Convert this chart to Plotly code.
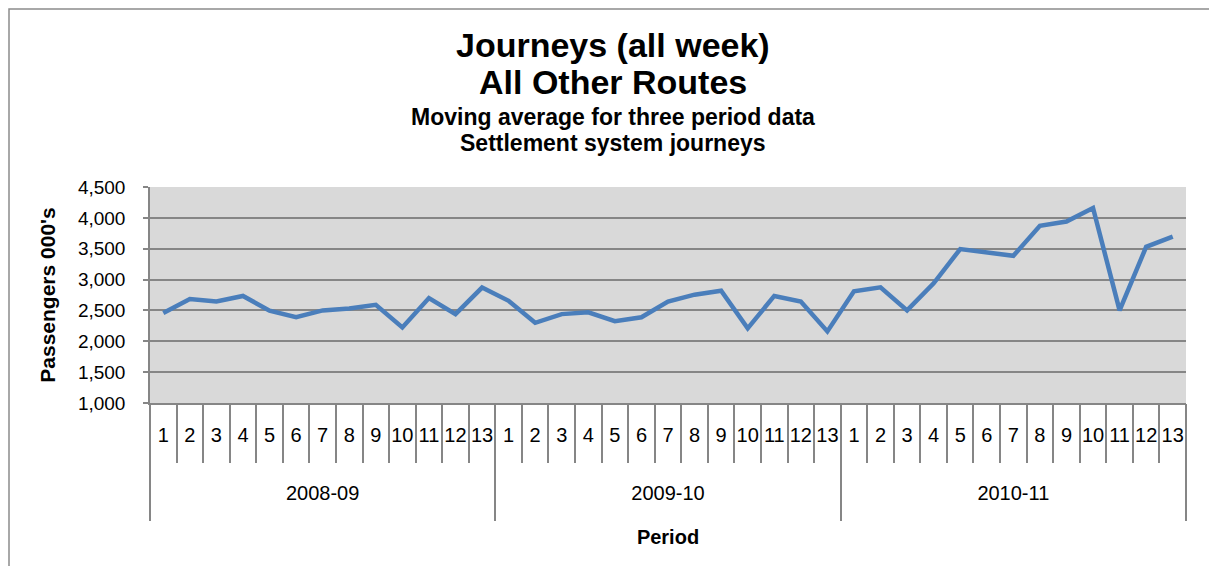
import plotly.graph_objects as go

years = ["2008-09", "2009-10", "2010-11"]
periods = [str(i) for i in range(1, 14)]
values = [
    2460, 2685, 2645, 2735, 2495, 2390, 2500, 2530, 2590, 2225, 2700, 2440, 2870,
    2655, 2300, 2440, 2470, 2325, 2390, 2645, 2755, 2820, 2210, 2735, 2645, 2160,
    2810, 2875, 2500, 2940, 3495, 3440, 3385, 3870, 3940, 4160, 2500, 3530, 3695,
]
y_ticks = [1000, 1500, 2000, 2500, 3000, 3500, 4000, 4500]

n_per = len(periods)
n = len(years) * n_per
xpos = list(range(1, n + 1))
period_labels = [p for _ in years for p in periods]
period_bounds = [i + 0.5 for i in range(0, n + 1)]
year_bounds = [k * n_per + 0.5 for k in range(len(years) + 1)]
year_centers = [k * n_per + (n_per + 1) / 2 for k in range(len(years))]
xr = [0.5, n + 0.5]

OFF = 8  # page body margin
W, H = 1217 - OFF, 574 - 2 * OFF
plot_l, plot_r, plot_t, plot_b = 150 - OFF, 1186 - OFF, 187 - OFF, 403 - OFF
L, R, T, B = plot_l, W - plot_r, plot_t, H - plot_b
pw, ph = plot_r - plot_l, plot_b - plot_t


def px(x):
    return (x - OFF - plot_l) / pw


def py(y):
    return (plot_b - (y - OFF)) / ph


font = "Liberation Sans, Arial, sans-serif"
grey = "#868686"

fig = go.Figure()
fig.add_trace(go.Scatter(
    x=xpos, y=values, mode="lines",
    line=dict(color="#4a7ebb", width=4.5), showlegend=False,
))
# invisible companions so that the overlaying category axes are drawn
for ax in ["x2", "x3", "x4"]:
    fig.add_trace(go.Scatter(
        x=xpos, y=values, xaxis=ax, mode="lines", line=dict(width=0),
        opacity=0, showlegend=False, hoverinfo="skip",
    ))

common = dict(range=xr, autorange=False, showgrid=False, zeroline=False)
fig.update_layout(
    width=W, height=H,
    margin=dict(l=L, r=R, t=T, b=B, pad=0),
    paper_bgcolor="white", plot_bgcolor="#d9d9d9",
    font=dict(family=font, color="black", size=20),
    xaxis=dict(
        **common, tickmode="array", tickvals=xpos, ticktext=period_labels,
        ticks="", showline=True, linecolor=grey, linewidth=1.5,
        tickfont=dict(size=20, family=font), ticklabelstandoff=13,
    ),
    xaxis2=dict(
        **common, overlaying="x", anchor="y", side="bottom",
        tickmode="array", tickvals=period_bounds, ticks="outside", ticklen=59,
        tickwidth=1.5, tickcolor=grey, showticklabels=False, showline=False,
    ),
    xaxis3=dict(
        **common, overlaying="x", anchor="y", side="bottom",
        tickmode="array", tickvals=year_bounds, ticks="outside", ticklen=117,
        tickwidth=1.5, tickcolor=grey, showticklabels=False, showline=False,
    ),
    xaxis4=dict(
        **common, overlaying="x", anchor="y", side="bottom",
        tickmode="array", tickvals=year_centers, ticktext=years, ticks="",
        showline=False, tickfont=dict(size=20, family=font), ticklabelstandoff=76,
        title=dict(text="<b>Period</b>", font=dict(size=20, family=font), standoff=26),
    ),
    yaxis=dict(
        range=[1000, 4500], autorange=False, tickmode="array", tickvals=y_ticks,
        tickformat=",", showgrid=True, gridcolor=grey, gridwidth=2,
        showline=True, linecolor=grey, linewidth=1.5,
        ticks="outside", ticklen=5, tickwidth=1.5, tickcolor=grey,
        tickfont=dict(size=19, family=font), zeroline=False, ticklabelstandoff=14,
        title=dict(text="<b>Passengers 000's</b>", font=dict(size=21, family=font), standoff=17),
    ),
)

titles = [
    ("<b>Journeys (all week)</b>", 45, 34),
    ("<b>All Other Routes</b>", 82, 34),
    ("<b>Moving average for three period data</b>", 117, 23),
    ("<b>Settlement system journeys</b>", 143, 23),
]
for text, y, size in titles:
    fig.add_annotation(
        text=text, xref="paper", yref="paper", x=px(613), y=py(y),
        xanchor="center", yanchor="middle", showarrow=False,
        font=dict(size=size, family=font, color="black"),
    )

fig.add_shape(
    type="rect", xref="paper", yref="paper",
    x0=px(9), x1=px(1210), y0=py(590), y1=py(9),
    line=dict(color="#8c8c8c", width=1.5), fillcolor="rgba(0,0,0,0)", layer="below",
)

fig.write_html("out.html")
